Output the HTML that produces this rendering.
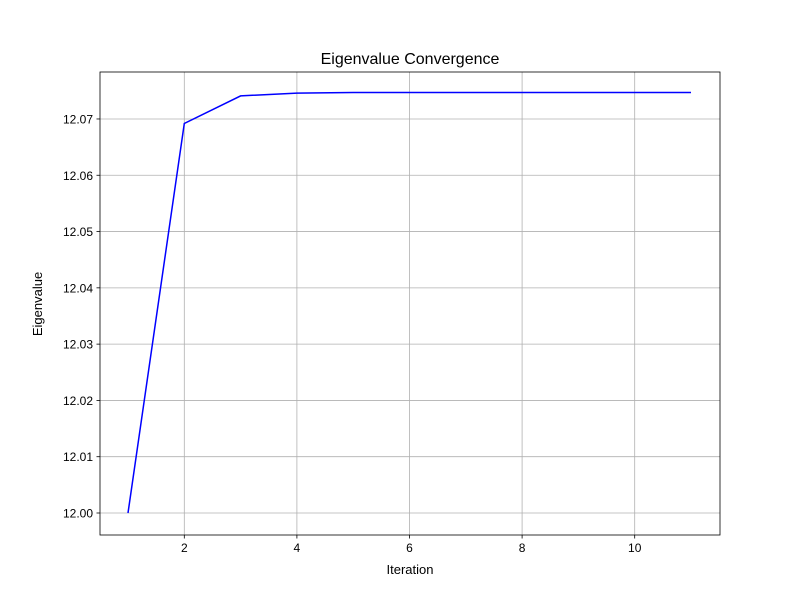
<!DOCTYPE html>
<html><head><meta charset="utf-8"><style>
body{margin:0;background:#fff;font-family:"Liberation Sans","DejaVu Sans",sans-serif;}
</style></head><body>
<svg id="chart" width="800" height="600" xmlns="http://www.w3.org/2000/svg">
<rect width="800" height="600" fill="#fff"/>
<g id="grid"></g><g id="plot"></g><g id="axes"></g>
</svg>
<script>
const iterations=[1,2,3,4,5,6,7,8,9,10,11];
const eigenvalues=[12.0,12.0692,12.0741,12.0746,12.0747,12.0747,12.0747,12.0747,12.0747,12.0747,12.0747];
const xTicks=[2,4,6,8,10];
const yTicks=[12.00,12.01,12.02,12.03,12.04,12.05,12.06,12.07];
const L=100,R=720,T=72,B=535;
const xs=v=>128+(v-1)*56.3;
const ys=v=>513-(v-12.0)*5629;
const ns="http://www.w3.org/2000/svg";
function mk(tag,attrs,parent,text){const e=document.createElementNS(ns,tag);for(const k in attrs)e.setAttribute(k,attrs[k]);if(text!==undefined)e.textContent=text;parent.appendChild(e);return e;}
const grid=document.getElementById('grid'),plot=document.getElementById('plot'),axes=document.getElementById('axes');
xTicks.forEach(t=>{const x=xs(t);
const g=mk('line',{x1:x,x2:x,y1:T,y2:B,stroke:'#b0b0b0','stroke-width':0.8},grid);

mk('line',{x1:x,x2:x,y1:B,y2:B+3.5,stroke:'#000','stroke-width':0.8},axes);
const l=mk('text',{x:x,y:B+17,'font-size':12,'text-anchor':'middle'},axes,String(t));
});
yTicks.forEach(t=>{const y=ys(t);
const g=mk('line',{x1:L,x2:R,y1:y,y2:y,stroke:'#b0b0b0','stroke-width':0.8},grid);

mk('line',{x1:L-3.5,x2:L,y1:y,y2:y,stroke:'#000','stroke-width':0.8},axes);
const l=mk('text',{x:L-7,y:y+4.5,'font-size':12,'text-anchor':'end'},axes,t.toFixed(2));
});
const line=mk('polyline',{points:iterations.map((v,i)=>xs(v)+','+ys(eigenvalues[i])).join(' '),fill:'none',stroke:'#0000ff','stroke-width':1.5},plot);

const fr=mk('rect',{x:L,y:T,width:R-L,height:B-T,fill:'none',stroke:'#000','stroke-width':0.8},axes);

const ti=mk('text',{x:410,y:64,'font-size':16,'text-anchor':'middle'},axes,'Eigenvalue Convergence');

const xl=mk('text',{x:410,y:574,'font-size':13,'text-anchor':'middle'},axes,'Iteration');

const yl=mk('text',{x:0,y:0,'font-size':13,'text-anchor':'middle',transform:'translate(42,304) rotate(-90)'},axes,'Eigenvalue');

</script>
</body></html>
